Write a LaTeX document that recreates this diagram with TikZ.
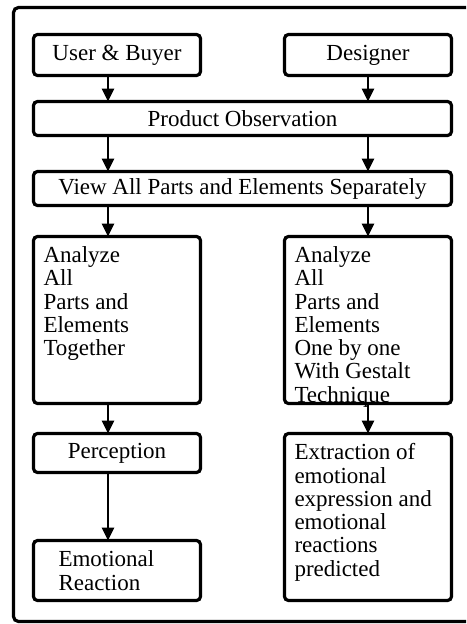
\documentclass[tikz,border=0pt]{standalone}
\usepackage{fontspec}
\setmainfont{Liberation Serif}
\usetikzlibrary{arrows.meta,positioning}

\newcommand{\boxfont}{\fontsize{23pt}{23.3pt}\selectfont}
\newcommand{\toptext}[1]{\parbox[c][147pt][t]{147pt}{\raggedright #1}}

\begin{document}
\begin{tikzpicture}[
    x=1pt,y=1pt,
    node distance=26pt and 84pt,
    block/.style={rectangle,draw,line width=3.2pt,rounded corners=4pt,outer sep=0pt,inner sep=0pt,minimum width=167pt,align=center,font=\boxfont},
    wideblock/.style={block,minimum width=418pt,minimum height=34pt},
    tallblock/.style={block,inner sep=10pt,align=left},
    arrow/.style={line width=2.8pt,-{Triangle[length=13pt,width=12pt]}}
]
    \useasboundingbox (0,0) rectangle (466,-624);
    \clip (0,0) rectangle (466,-624);
    \draw[line width=3.2pt,rounded corners=5pt] (13.5,-7.5) rectangle (490,-621.5);

    \node[block,minimum height=41pt] (user) at (117,-55) {User \& Buyer};
    \node[block,minimum height=41pt,right=of user] (designer) {Designer};

    \node[wideblock,below=26pt of user.south west,anchor=north west] (obs) {Product Observation};
    \node[wideblock,below=36pt of obs] (view) {View All Parts and Elements Separately};

    \node[tallblock,below=31pt of view.south west,anchor=north west] (together) {\toptext{Analyze\\All\\Parts and\\Elements\\Together}};
    \node[tallblock,below=31pt of view.south east,anchor=north east] (gestalt) {\toptext{Analyze\\All\\Parts and\\Elements\\One by one\\With Gestalt\\Technique}};

    \node[block,minimum height=39pt,below=30pt of together] (percept) {Perception};
    \node[block,minimum height=60pt,text width=117pt,align=left,below=68pt of percept] (emo) {Emotional\\Reaction};
    \node[tallblock,below=30pt of gestalt] (extract) {\toptext{Extraction of\\emotional\\expression and\\emotional\\reactions\\predicted}};

    \coordinate (lx) at ([xshift=-9pt]user.south);
    \coordinate (rx) at (designer.south);

    \draw[arrow] (lx) -- (lx |- obs.north);
    \draw[arrow] (rx) -- (rx |- obs.north);
    \draw[arrow] (lx |- obs.south) -- (lx |- view.north);
    \draw[arrow] (rx |- obs.south) -- (rx |- view.north);
    \draw[arrow] (lx |- view.south) -- (lx |- together.north);
    \draw[arrow] (rx |- view.south) -- (gestalt.north);
    \draw[arrow] (lx |- together.south) -- (lx |- percept.north);
    \draw[arrow] (gestalt.south) -- (extract.north);
    \draw[arrow] (lx |- percept.south) -- (lx |- emo.north);
\end{tikzpicture}
\end{document}
